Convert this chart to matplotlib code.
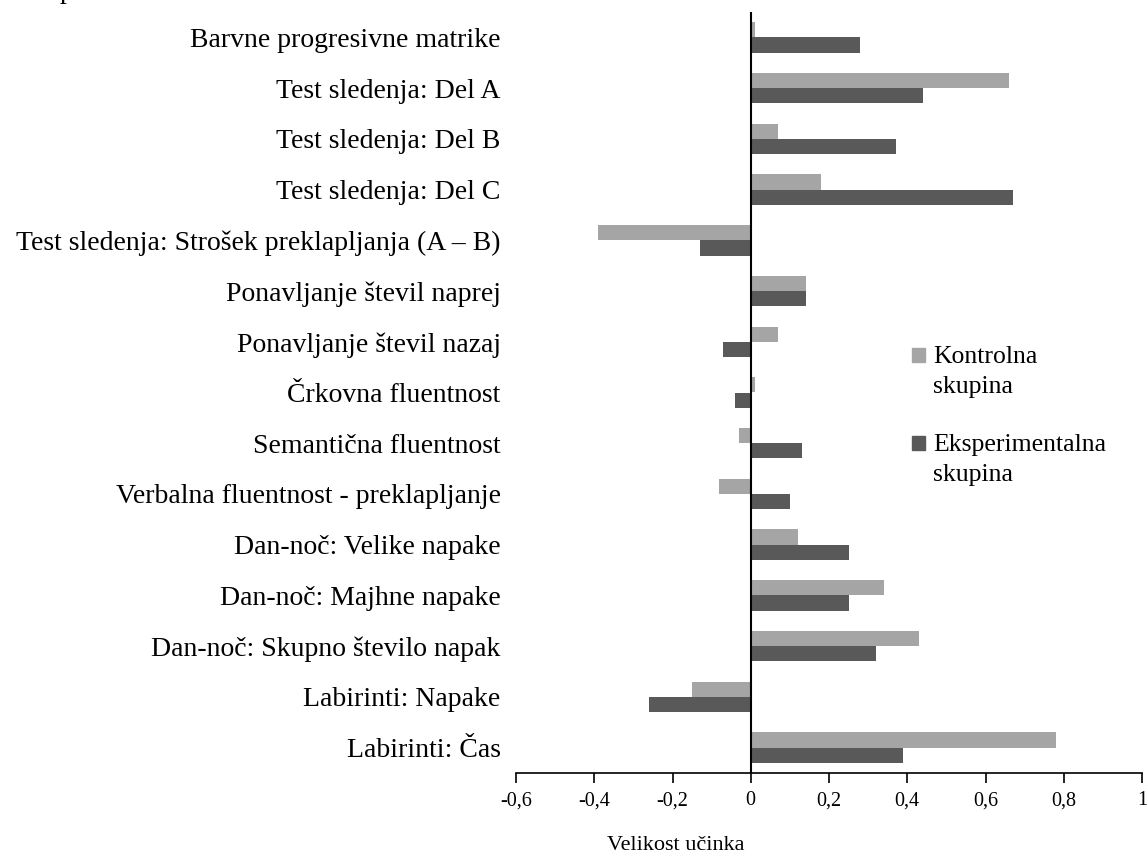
import matplotlib
matplotlib.use("Agg")
import matplotlib.pyplot as plt
from matplotlib.patches import Rectangle
import numpy as np

categories = [
    "Barvne progresivne matrike",
    "Test sledenja: Del A",
    "Test sledenja: Del B",
    "Test sledenja: Del C",
    "Test sledenja: Strošek preklapljanja (A – B)",
    "Ponavljanje števil naprej",
    "Ponavljanje števil nazaj",
    "Črkovna fluentnost",
    "Semantična fluentnost",
    "Verbalna fluentnost - preklapljanje",
    "Dan-noč: Velike napake",
    "Dan-noč: Majhne napake",
    "Dan-noč: Skupno število napak",
    "Labirinti: Napake",
    "Labirinti: Čas",
]
kontrolna = [0.01, 0.66, 0.07, 0.18, -0.39, 0.14, 0.07, 0.01, -0.03, -0.08, 0.12, 0.34, 0.43, -0.15, 0.78]
eksperimentalna = [0.28, 0.44, 0.37, 0.67, -0.13, 0.14, -0.07, -0.04, 0.13, 0.10, 0.25, 0.25, 0.32, -0.26, 0.39]
xticks = [-0.6, -0.4, -0.2, 0, 0.2, 0.4, 0.6, 0.8, 1]
xticklabels = ["-0,6", "-0,4", "-0,2", "0", "0,2", "0,4", "0,6", "0,8", "1"]
series_labels = ["Kontrolna\nskupina", "Eksperimentalna\nskupina"]
colors = ['#A5A5A5', '#595959']

plt.rcParams['font.family'] = ['Liberation Serif', 'DejaVu Serif']

W, H = 1148, 857
fig = plt.figure(figsize=(W / 100, H / 100), dpi=100)
ax = fig.add_axes([516 / W, 1 - 773 / H, (1142 - 516) / W, (773 - 12) / H])

n = len(categories)
y = np.arange(n)
bh = 0.3
ax.barh(y - bh / 2, kontrolna, height=bh, color=colors[0])
ax.barh(y + bh / 2, eksperimentalna, height=bh, color=colors[1])

ax.set_ylim(n - 0.5, -0.5)
ax.set_xlim(-0.6, 1.0)
ax.set_yticks(y)
ax.set_yticklabels(categories, fontsize=20)
ax.tick_params(axis='y', length=0, pad=11)
ax.set_xticks(xticks)
ax.set_xticklabels(xticklabels, fontsize=14.5)
ax.tick_params(axis='x', direction='out', length=7, width=1.2, pad=6, color='black')

for s in ['top', 'right', 'left']:
    ax.spines[s].set_visible(False)
ax.spines['bottom'].set_linewidth(1.2)
ax.axvline(0, color='black', linewidth=1.5, zorder=3)

fig.text(676 / W, 1 - 845 / H, "Velikost učinka", ha='center', va='center', fontsize=16)

# legend (square aligned with first text line)
for lab, col, yc in zip(series_labels, colors, [355, 443]):
    fig.patches.append(Rectangle((912 / W, 1 - (yc + 7) / H), 13 / W, 14 / H,
                                 transform=fig.transFigure, color=col))
    lines = lab.split("\n")
    for i, line in enumerate(lines):
        fig.text(933 / W, 1 - (yc + 30 * i) / H, line, ha='left', va='center_baseline', fontsize=18.5)

fig.text(67 / W, 1 + 1.5 / H, "p", ha='center', va='baseline', fontsize=20)

fig.savefig("out.png", dpi=100)
